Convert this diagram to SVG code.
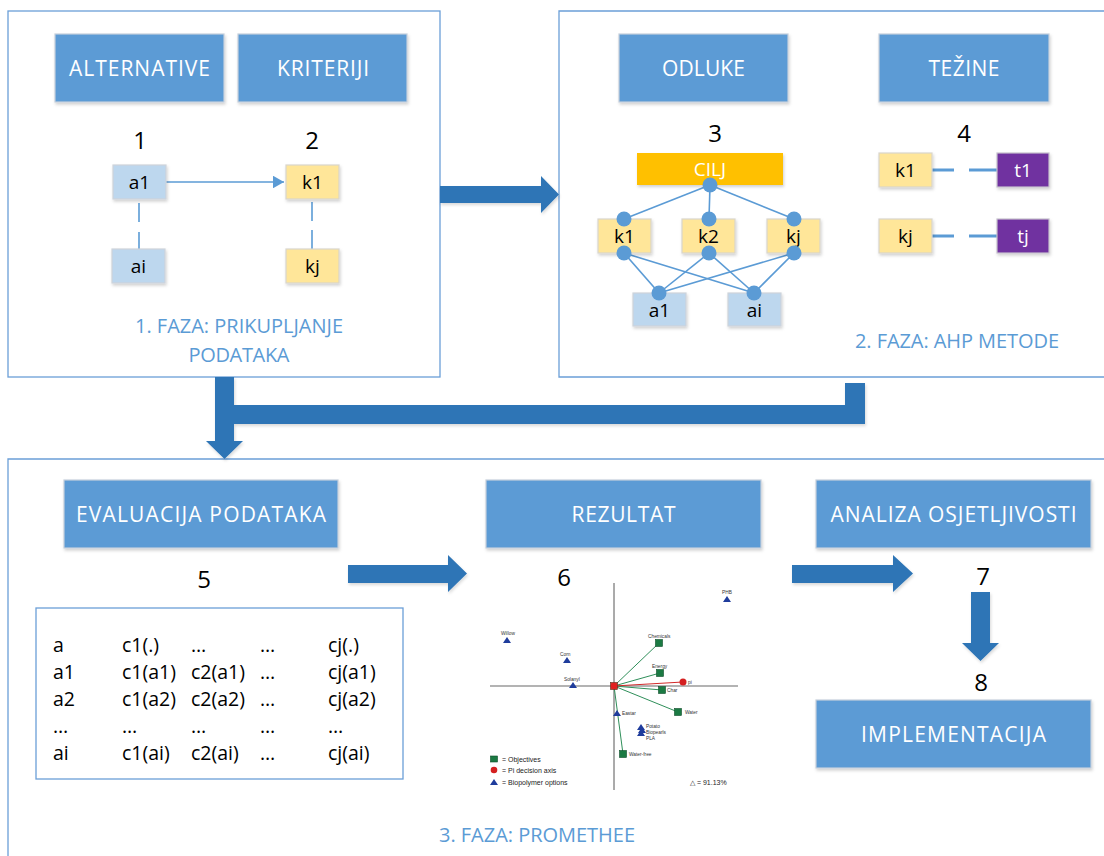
<svg xmlns="http://www.w3.org/2000/svg" width="1104" height="856" viewBox="0 0 1104 856">
<style>
.panel{fill:none;stroke:#6b9fd8;stroke-width:1.3}
.tb{fill:#5b9bd5;stroke:#c5cfdc;stroke-width:1.2;filter:url(#sh)}
.tt{font-family:"Open Sans","Liberation Sans",sans-serif;font-size:21px;fill:#fff;text-anchor:middle}
.num{font-family:"Open Sans","Liberation Sans",sans-serif;font-size:24px;fill:#000;text-anchor:middle}
.lb{fill:#bdd7ee;stroke:#cdd3da;stroke-width:1.2;filter:url(#sh)}
.yb{fill:#ffe699;stroke:#d9d6cc;stroke-width:1.2;filter:url(#sh)}
.pb{fill:#7030a0;stroke:#c5c0cc;stroke-width:1.2;filter:url(#sh)}
.gb{fill:#ffc000;filter:url(#sh)}
.st{font-family:"Open Sans","Liberation Sans",sans-serif;font-size:19px;fill:#000;text-anchor:middle}
.sw{font-family:"Open Sans","Liberation Sans",sans-serif;font-size:19px;fill:#fff;text-anchor:middle}
.ph{font-family:"Open Sans","Liberation Sans",sans-serif;font-size:20px;fill:#5b9bd5;text-anchor:middle}
.ln{stroke:#5b9bd5;stroke-width:1.6;fill:none}
.dl{stroke:#5b9bd5;stroke-width:3;fill:none}
.dot{fill:#5b9bd5}
.big{fill:#2e75b6;filter:url(#sh2)}
.tx{font-family:"Open Sans","Liberation Sans",sans-serif;font-size:19.5px;fill:#000}
.gl{font-family:"Liberation Sans",Arial,sans-serif;font-size:4.8px;fill:#333}
.lg{font-family:"Liberation Sans",Arial,sans-serif;font-size:7px;fill:#222}
.obj{fill:#1b7a43;stroke:#0e4d29;stroke-width:0.6}
.tri{fill:#1f3c9c}
.gline{stroke:#2f8f5a;stroke-width:1}
</style>
<defs>
<filter id="sh" x="-10%" y="-15%" width="125%" height="145%">
<feDropShadow dx="1" dy="2" stdDeviation="1.6" flood-color="#000" flood-opacity="0.18"/>
</filter>
<filter id="sh2" x="-10%" y="-15%" width="125%" height="145%">
<feDropShadow dx="1" dy="2" stdDeviation="1.4" flood-color="#000" flood-opacity="0.15"/>
</filter>
<marker id="ah" markerWidth="8" markerHeight="8" refX="7" refY="4" orient="auto" markerUnits="strokeWidth">
<path d="M0,0 L7,4 L0,8 Z" fill="#5b9bd5"/>
</marker>
</defs>

<!-- panels -->
<g id="panel1">
<rect class="panel" x="8" y="11" width="432" height="366"/>
<text class="ph" x="239" y="333" textLength="208">1. FAZA: PRIKUPLJANJE</text>
<text class="ph" x="239" y="362" textLength="101">PODATAKA</text>
</g>
<g id="panel2">
<path class="panel" d="M1106,11 H559 V377 H1106"/>
<text class="ph" x="957" y="348" textLength="204">2. FAZA: AHP METODE</text>
</g>
<g id="panel3">
<path class="panel" d="M1106,459 H8 V860"/>
<text class="ph" x="537" y="842" textLength="196">3. FAZA: PROMETHEE</text>
</g>

<!-- big connectors -->
<g id="connectors">
<path class="big" d="M440,186 H541 V176 L559,194.5 L541,213 V203 H440 Z"/>
<path class="big" d="M215,377 H234 V405 H845 V383 H865 V424 H234 V441 H243 L224.5,459 L206,441 H215 Z"/>
<path class="big" d="M348,565 H448 V555 L467,573.5 L448,592 V583 H348 Z"/>
<path class="big" d="M792,565 H893 V555 L913,573.5 L893,592 V583 H792 Z"/>
<path class="big" d="M971,592 H990 V643 H999 L980.5,661 L962,643 H971 Z"/>
<line class="ln" x1="166" y1="182" x2="284" y2="182" marker-end="url(#ah)"/>
<line class="ln" x1="139" y1="203" x2="139" y2="222"/>
<line class="ln" x1="139" y1="232" x2="139" y2="250"/>
<line class="ln" x1="312" y1="202" x2="312" y2="221"/>
<line class="ln" x1="312" y1="230" x2="312" y2="250"/>
<line class="dl" x1="932" y1="170" x2="954" y2="170"/>
<line class="dl" x1="969" y1="170" x2="997" y2="170"/>
<line class="dl" x1="932" y1="236" x2="954" y2="236"/>
<line class="dl" x1="969" y1="236" x2="997" y2="236"/>
<line class="ln" x1="710" y1="185" x2="624" y2="219"/>
<line class="ln" x1="710" y1="185" x2="709" y2="219"/>
<line class="ln" x1="710" y1="185" x2="794" y2="219"/>
<line class="ln" x1="624" y1="253" x2="659" y2="293"/>
<line class="ln" x1="624" y1="253" x2="754" y2="293"/>
<line class="ln" x1="709" y1="253" x2="659" y2="293"/>
<line class="ln" x1="709" y1="253" x2="754" y2="293"/>
<line class="ln" x1="794" y1="253" x2="659" y2="293"/>
<line class="ln" x1="794" y1="253" x2="754" y2="293"/>
</g>

<!-- phase 1 nodes -->
<g id="alternative"><rect class="tb" x="55" y="34" width="169" height="68"/><text class="tt" x="139.5" y="76" textLength="141">ALTERNATIVE</text></g>
<g id="kriteriji"><rect class="tb" x="238" y="34" width="169" height="68"/><text class="tt" x="323" y="76" textLength="92">KRITERIJI</text></g>
<g id="n1"><text class="num" x="140" y="149">1</text></g>
<g id="n2"><text class="num" x="312" y="149">2</text></g>
<g id="p1a1"><rect class="lb" x="113" y="165" width="53" height="34"/><text class="st" x="139.5" y="189">a1</text></g>
<g id="p1ai"><rect class="lb" x="112" y="249" width="53" height="34"/><text class="st" x="138.5" y="273">ai</text></g>
<g id="p1k1"><rect class="yb" x="286" y="165" width="53" height="34"/><text class="st" x="312.5" y="189">k1</text></g>
<g id="p1kj"><rect class="yb" x="286" y="249" width="53" height="34"/><text class="st" x="312.5" y="273">kj</text></g>

<!-- phase 2 nodes -->
<g id="odluke"><rect class="tb" x="619" y="34" width="169" height="68"/><text class="tt" x="703.5" y="76" textLength="83">ODLUKE</text></g>
<g id="tezine"><rect class="tb" x="879" y="34" width="170" height="68"/><text class="tt" x="964" y="76" textLength="71">TEŽINE</text></g>
<g id="n3"><text class="num" x="715" y="142">3</text></g>
<g id="n4"><text class="num" x="964" y="142">4</text></g>
<g id="cilj"><rect class="gb" x="637" y="153" width="146" height="32"/><text class="sw" x="710" y="176">CILJ</text></g>
<g id="t_k1"><rect class="yb" x="598" y="219" width="53" height="34"/><text class="st" x="624.5" y="243">k1</text></g>
<g id="t_k2"><rect class="yb" x="682" y="219" width="53" height="34"/><text class="st" x="708.5" y="243">k2</text></g>
<g id="t_kj"><rect class="yb" x="767" y="219" width="53" height="34"/><text class="st" x="793.5" y="243">kj</text></g>
<g id="t_a1"><rect class="lb" x="633" y="293" width="53" height="33"/><text class="st" x="659.5" y="317">a1</text></g>
<g id="t_ai"><rect class="lb" x="728" y="293" width="53" height="33"/><text class="st" x="754.5" y="317">ai</text></g>
<g id="dots">
<circle class="dot" cx="710" cy="185" r="7.5"/>
<circle class="dot" cx="624" cy="219" r="7.5"/>
<circle class="dot" cx="709" cy="219" r="7.5"/>
<circle class="dot" cx="794" cy="219" r="7.5"/>
<circle class="dot" cx="624" cy="253" r="7.5"/>
<circle class="dot" cx="709" cy="253" r="7.5"/>
<circle class="dot" cx="794" cy="253" r="7.5"/>
<circle class="dot" cx="659" cy="293" r="7.5"/>
<circle class="dot" cx="754" cy="293" r="7.5"/>
</g>
<g id="w_k1"><rect class="yb" x="879" y="153" width="53" height="34"/><text class="st" x="905.5" y="177">k1</text></g>
<g id="w_t1"><rect class="pb" x="997" y="153" width="52" height="34"/><text class="sw" x="1023" y="177">t1</text></g>
<g id="w_kj"><rect class="yb" x="879" y="219" width="53" height="34"/><text class="st" x="905.5" y="243">kj</text></g>
<g id="w_tj"><rect class="pb" x="997" y="219" width="52" height="34"/><text class="sw" x="1023" y="243">tj</text></g>

<!-- phase 3 nodes -->
<g id="evaluacija"><rect class="tb" x="64" y="480" width="274" height="68"/><text class="tt" x="201" y="522" textLength="250">EVALUACIJA PODATAKA</text></g>
<g id="rezultat"><rect class="tb" x="486" y="480" width="275" height="68"/><text class="tt" x="623.5" y="522" textLength="104">REZULTAT</text></g>
<g id="analiza"><rect class="tb" x="816" y="480" width="275" height="68"/><text class="tt" x="953.5" y="522" textLength="246">ANALIZA OSJETLJIVOSTI</text></g>
<g id="implementacija"><rect class="tb" x="816" y="700" width="275" height="68"/><text class="tt" x="953.5" y="742" textLength="185">IMPLEMENTACIJA</text></g>
<g id="n5"><text class="num" x="204" y="588">5</text></g>
<g id="n6"><text class="num" x="564" y="586">6</text></g>
<g id="n7"><text class="num" x="983" y="585">7</text></g>
<g id="n8"><text class="num" x="981" y="691">8</text></g>

<g id="table">
<rect x="36" y="608" width="367" height="171" fill="#fff" stroke="#6b9fd8" stroke-width="1.3"/>
<g class="tx">
<text x="53" y="652">a</text><text x="122" y="652">c1(.)</text><text x="191" y="652">…</text><text x="260" y="652">…</text><text x="328" y="652">cj(.)</text>
<text x="53" y="679">a1</text><text x="122" y="679">c1(a1)</text><text x="191" y="679">c2(a1)</text><text x="260" y="679">…</text><text x="328" y="679">cj(a1)</text>
<text x="53" y="706">a2</text><text x="122" y="706">c1(a2)</text><text x="191" y="706">c2(a2)</text><text x="260" y="706">…</text><text x="328" y="706">cj(a2)</text>
<text x="53" y="733">…</text><text x="122" y="733">…</text><text x="191" y="733">…</text><text x="260" y="733">…</text><text x="328" y="733">…</text>
<text x="53" y="760">ai</text><text x="122" y="760">c1(ai)</text><text x="191" y="760">c2(ai)</text><text x="260" y="760">…</text><text x="328" y="760">cj(ai)</text>
</g>
</g>

<g id="gaia">
<line x1="490" y1="686" x2="738" y2="686" stroke="#9a9a9a" stroke-width="1.3"/>
<line x1="614" y1="583" x2="614" y2="790" stroke="#444" stroke-width="0.9"/>
<line class="gline" x1="614" y1="686" x2="659" y2="643"/>
<line class="gline" x1="614" y1="686" x2="660" y2="673"/>
<line class="gline" x1="614" y1="686" x2="662" y2="690"/>
<line class="gline" x1="614" y1="686" x2="678" y2="712"/>
<line class="gline" x1="614" y1="686" x2="623" y2="754"/>
<line x1="614" y1="686" x2="683" y2="682" stroke="#d22a2a" stroke-width="1"/>
<rect class="obj" x="655.5" y="639.5" width="7" height="7"/>
<rect class="obj" x="656.5" y="669.5" width="7" height="7"/>
<rect class="obj" x="658.5" y="686.5" width="7" height="7"/>
<rect class="obj" x="674.5" y="708.5" width="7" height="7"/>
<rect class="obj" x="619.5" y="750.5" width="7" height="7"/>
<rect x="610.5" y="682.5" width="7" height="7" fill="#c93a2a" stroke="#5a2a1a" stroke-width="0.6"/>
<circle cx="614" cy="686" r="3.2" fill="#e02020"/>
<circle cx="683" cy="682" r="3.5" fill="#d42020"/>
<path class="tri" d="M727,596 L731,602 L723,602 Z"/>
<path class="tri" d="M507,637 L511,643 L503,643 Z"/>
<path class="tri" d="M567,657 L571,663 L563,663 Z"/>
<path class="tri" d="M573,682 L577,688 L569,688 Z"/>
<path class="tri" d="M617,710 L621,716 L613,716 Z"/>
<path class="tri" d="M641,724 L645,730 L637,730 Z"/>
<path class="tri" d="M642,727 L646,733 L638,733 Z"/>
<path class="tri" d="M641,730 L645,736 L637,736 Z"/>
<text class="gl" x="722" y="594">PHB</text>
<text class="gl" x="501" y="635">Willow</text>
<text class="gl" x="560" y="656">Corn</text>
<text class="gl" x="564" y="681">Solanyl</text>
<text class="gl" x="648" y="638">Chemicals</text>
<text class="gl" x="652" y="668">Energy</text>
<text class="gl" x="688" y="684">pi</text>
<text class="gl" x="667" y="692">Char</text>
<text class="gl" x="685" y="714">Water</text>
<text class="gl" x="622" y="715">Eastar</text>
<text class="gl" x="646" y="728">Potato</text>
<text class="gl" x="646" y="734">Biopearls</text>
<text class="gl" x="646" y="740">PLA</text>
<text class="gl" x="629" y="756">Water-free</text>
<rect class="obj" x="490.5" y="756" width="7" height="6"/>
<circle cx="494" cy="770" r="3.3" fill="#d42020"/>
<path class="tri" d="M494,779 L498,785 L490,785 Z"/>
<text class="lg" x="502" y="762">= Objectives</text>
<text class="lg" x="502" y="773">= Pi decision axis</text>
<text class="lg" x="502" y="785">= Biopolymer options</text>
<text class="lg" x="690" y="785">△ = 91.13%</text>
</g>
</svg>
